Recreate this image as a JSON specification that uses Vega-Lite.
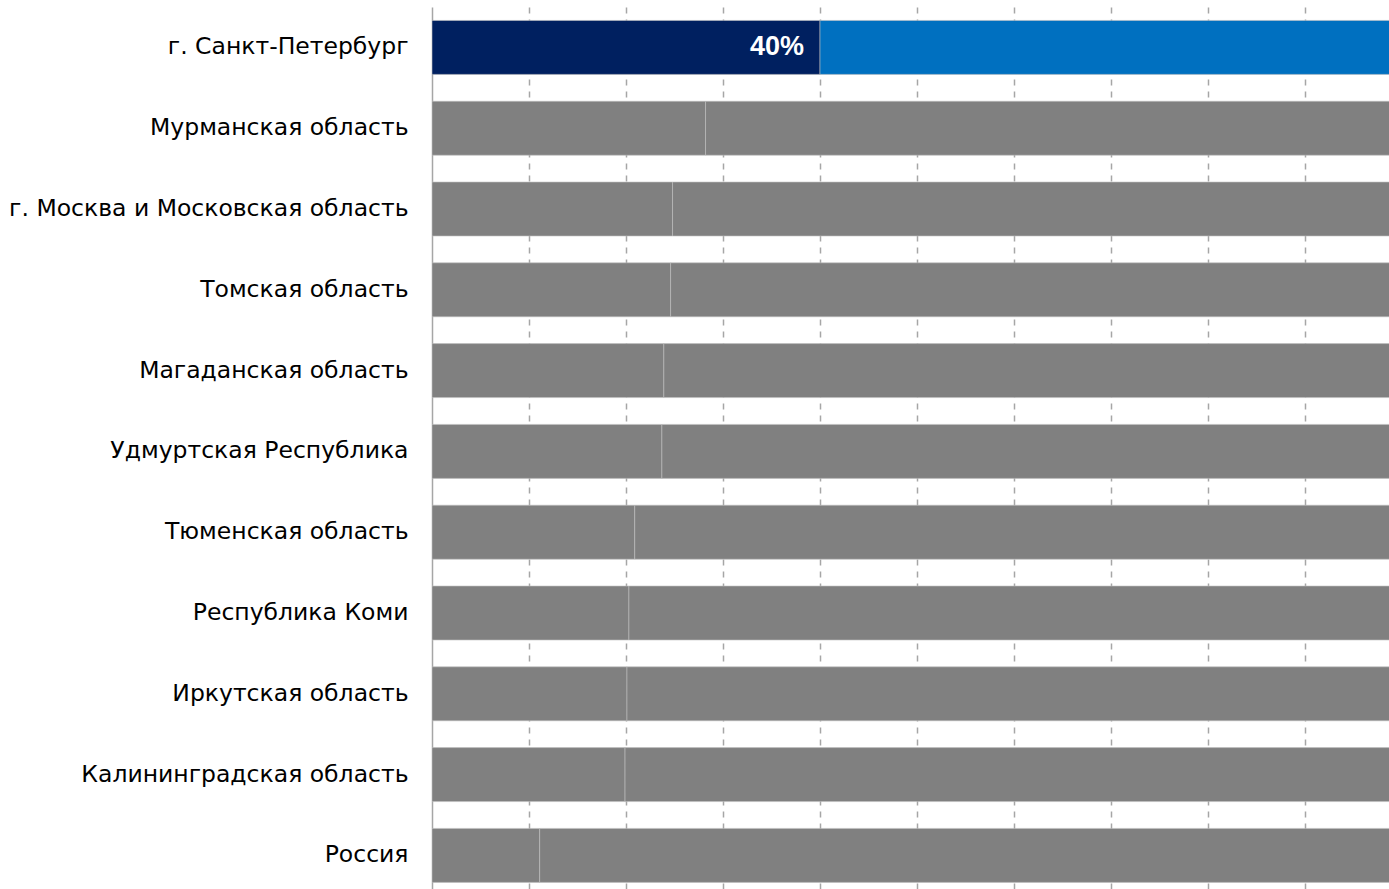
{
  "$schema": "https://vega.github.io/schema/vega-lite/v6.json",
  "width": 957,
  "height": 882,
  "autosize": {"type": "none"},
  "padding": {"left": 432, "top": 7, "right": 0, "bottom": 0},
  "background": "white",
  "config": {
    "view": {"stroke": null},
    "font": "Liberation Sans"
  },
  "data": {
    "values": [
      {"region": "г. Санкт-Петербург", "seg": 1, "value": 0.40},
      {"region": "г. Санкт-Петербург", "seg": 2, "value": 0.60},
      {"region": "Мурманская область", "seg": 1, "value": 0.282},
      {"region": "Мурманская область", "seg": 2, "value": 0.718},
      {"region": "г. Москва и Московская область", "seg": 1, "value": 0.248},
      {"region": "г. Москва и Московская область", "seg": 2, "value": 0.752},
      {"region": "Томская область", "seg": 1, "value": 0.246},
      {"region": "Томская область", "seg": 2, "value": 0.754},
      {"region": "Магаданская область", "seg": 1, "value": 0.239},
      {"region": "Магаданская область", "seg": 2, "value": 0.761},
      {"region": "Удмуртская Республика", "seg": 1, "value": 0.237},
      {"region": "Удмуртская Республика", "seg": 2, "value": 0.763},
      {"region": "Тюменская область", "seg": 1, "value": 0.209},
      {"region": "Тюменская область", "seg": 2, "value": 0.791},
      {"region": "Республика Коми", "seg": 1, "value": 0.203},
      {"region": "Республика Коми", "seg": 2, "value": 0.797},
      {"region": "Иркутская область", "seg": 1, "value": 0.201},
      {"region": "Иркутская область", "seg": 2, "value": 0.799},
      {"region": "Калининградская область", "seg": 1, "value": 0.199},
      {"region": "Калининградская область", "seg": 2, "value": 0.801},
      {"region": "Россия", "seg": 1, "value": 0.111},
      {"region": "Россия", "seg": 2, "value": 0.889}
    ]
  },
  "encoding": {
    "y": {
      "field": "region",
      "type": "nominal",
      "sort": null,
      "scale": {"paddingInner": 0.332, "paddingOuter": 0.124, "align": 0.67},
      "axis": {
        "title": null,
        "ticks": false,
        "labelFont": "DejaVu Sans",
        "labelFontSize": 23.5,
        "labelColor": "#000000",
        "labelPadding": 24,
        "labelLimit": 500,
        "domainColor": "#a6a6a6",
        "domainWidth": 1.5,
        "grid": false
      }
    }
  },
  "layer": [
    {
      "mark": {"type": "bar", "clip": true, "stroke": "#c0c0c0", "strokeWidth": 0.6},
      "encoding": {
        "x": {
          "field": "value",
          "type": "quantitative",
          "stack": "zero",
          "scale": {"domain": [0, 0.9866], "nice": false, "zero": true},
          "axis": {
            "title": null,
            "values": [0.1, 0.2, 0.3, 0.4, 0.5, 0.6, 0.7, 0.8, 0.9],
            "labels": false,
            "ticks": false,
            "domain": false,
            "grid": true,
            "gridDash": [6, 6],
            "gridColor": "#a6a6a6",
            "gridWidth": 1.5
          }
        },
        "order": {"field": "seg", "type": "quantitative"},
        "color": {
          "condition": [
            {"test": "datum.region === 'г. Санкт-Петербург' && datum.seg === 1", "value": "#002060"},
            {"test": "datum.region === 'г. Санкт-Петербург' && datum.seg === 2", "value": "#0070C0"}
          ],
          "value": "#808080"
        }
      }
    },
    {
      "transform": [
        {"filter": "datum.region === 'г. Санкт-Петербург' && datum.seg === 1"}
      ],
      "mark": {"type": "text", "align": "right", "baseline": "middle", "dx": -16, "fontSize": 27, "fontWeight": "bold", "color": "#ffffff"},
      "encoding": {
        "x": {"field": "value", "type": "quantitative"},
        "text": {"field": "value", "type": "quantitative", "format": ".0%"}
      }
    }
  ]
}
